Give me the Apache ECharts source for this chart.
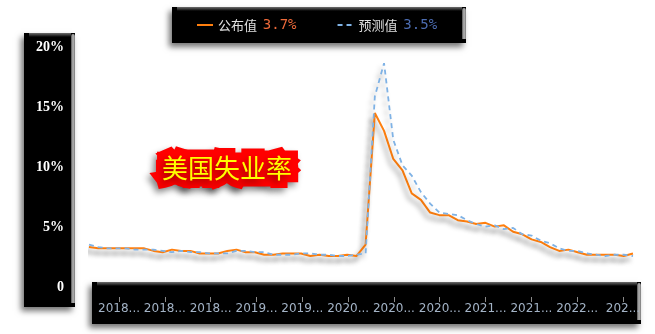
<!DOCTYPE html>
<html><head><meta charset="utf-8">
<script src="https://cdn.jsdelivr.net/npm/echarts@6/dist/echarts.min.js"></script>
<style>html,body{margin:0;padding:0;background:#fff}#c{width:655px;height:334px}</style>
</head><body><div id="c"></div>
<script>
const months = [
  '2017-09','2017-10','2017-11','2017-12',
  '2018-01','2018-02','2018-03','2018-04','2018-05','2018-06','2018-07','2018-08','2018-09','2018-10','2018-11','2018-12',
  '2019-01','2019-02','2019-03','2019-04','2019-05','2019-06','2019-07','2019-08','2019-09','2019-10','2019-11','2019-12',
  '2020-01','2020-02','2020-03','2020-04','2020-05','2020-06','2020-07','2020-08','2020-09','2020-10','2020-11','2020-12',
  '2021-01','2021-02','2021-03','2021-04','2021-05','2021-06','2021-07','2021-08','2021-09','2021-10','2021-11','2021-12',
  '2022-01','2022-02','2022-03','2022-04','2022-05','2022-06','2022-07','2022-08'
];
const actual = [
  4.2,4.1,4.1,4.1,
  4.1,4.1,4.1,3.9,3.8,4.0,3.9,3.9,3.7,3.7,3.7,3.9,
  4.0,3.8,3.8,3.6,3.6,3.7,3.7,3.7,3.5,3.6,3.5,3.5,
  3.6,3.5,4.4,14.7,13.3,11.1,10.2,8.4,7.9,6.9,6.7,6.7,
  6.3,6.2,6.0,6.1,5.8,5.9,5.4,5.2,4.8,4.6,4.2,3.9,
  4.0,3.8,3.6,3.6,3.6,3.6,3.5,3.7
];
const forecast = [
  4.4,4.2,4.1,4.1,
  4.1,4.0,4.0,4.0,3.9,3.8,3.9,3.8,3.8,3.7,3.7,3.7,
  3.9,3.9,3.8,3.8,3.6,3.6,3.6,3.7,3.7,3.6,3.6,3.5,
  3.5,3.6,3.7,16.0,18.6,12.6,10.6,9.8,8.5,7.6,6.9,6.8,
  6.7,6.3,6.0,5.8,5.9,5.6,5.7,5.2,5.1,4.7,4.5,4.1,
  3.9,3.9,3.7,3.6,3.5,3.6,3.6,3.5
];
const seriesNames = ['公布值','预测值'];
const yTicks = {min:0, max:20, step:5};

function box(x, y, w, h) {
  return [
    {type:'rect', z:-5, shape:{x:x, y:y, width:w, height:h},
      style:{fill:'#000', shadowBlur:6, shadowOffsetX:-3, shadowOffsetY:4, shadowColor:'rgba(0,0,0,0.55)'}},
    {type:'rect', z:-4, shape:{x:x+5, y:y, width:w-9, height:4},
      style:{fill:{type:'linear', x:0, y:0, x2:0, y2:1, colorStops:[{offset:0,color:'#6e6e6e'},{offset:1,color:'#000'}]}}},
    {type:'rect', z:-4, shape:{x:x+w-4, y:y+1, width:4, height:h-5, r:[2,2,0,0]},
      style:{fill:{type:'linear', x:0, y:0, x2:1, y2:0, colorStops:[{offset:0,color:'#555'},{offset:0.5,color:'#b8b8b8'},{offset:1,color:'#7a7a7a'}]}}}
  ];
}
const tickShown = (i) => i % 5 === 4;
const labelCats = months.map((m, i) => i === months.length - 1 ? {value: m, textStyle: {width: 39}} : m);

const chart = echarts.init(document.getElementById('c'));
chart.setOption({
  animation: false,
  backgroundColor: '#fff',
  graphic: {elements: [].concat(box(172, 7, 294, 36), box(24, 33, 51, 274), box(92, 282, 549, 42))},
  title: {
    text: '美国失业率', left: 157, top: 150,
    textStyle: {color:'#ffff00', fontSize:26, fontWeight:'normal', fontFamily:'Noto Sans CJK SC',
      textBorderColor:'#ff0000', textBorderWidth:15,
      textShadowColor:'rgba(0,0,0,0.45)', textShadowBlur:6, textShadowOffsetX:-3, textShadowOffsetY:4}
  },
  legend: {
    data: seriesNames, left: 196, top: 18, padding: 0, itemWidth: 16, itemHeight: 10, itemGap: 40, z: 10,
    itemStyle: {opacity: 0},
    formatter: (name) => name === seriesNames[0]
      ? '{n|' + name + '}  {a|' + actual[actual.length-1] + '%}'
      : '{n|' + name + '}  {f|' + forecast[forecast.length-1] + '%}',
    textStyle: {color:'#e0e0e0', fontSize:13, fontFamily:'Noto Sans CJK SC',
      rich: {
        n: {color:'#e0e0e0', fontSize:13, fontFamily:'Noto Sans CJK SC'},
        a: {color:'#ee6a3a', fontSize:14, fontFamily:'DejaVu Sans Mono'},
        f: {color:'#4c6cb0', fontSize:14, fontFamily:'DejaVu Sans Mono'}
      }}
  },
  grid: [
    {left: 89, right: 22, top: 45.3, bottom: 33.3},
    {left: 72, width: 1, top: 47, height: 240},
    {left: 82.4, right: 32, top: 250, bottom: 37}
  ],
  xAxis: [
    {gridIndex: 0, type: 'category', data: months, boundaryGap: false, show: false},
    {gridIndex: 1, type: 'category', data: [''], show: false},
    {gridIndex: 2, type: 'category', data: labelCats, boundaryGap: false, z: 10,
      axisLine: {show: false},
      axisTick: {show: true, interval: tickShown, length: 5, lineStyle: {color: '#8a8a8a'}},
      axisLabel: {interval: tickShown, color: '#a3b3c6', fontSize: 12, fontFamily: 'DejaVu Sans',
        width: 44, overflow: 'truncate', ellipsis: '...', margin: 6}}
  ],
  yAxis: [
    {gridIndex: 0, type: 'value', min: 0, max: 20, show: false},
    {gridIndex: 1, type: 'value', min: yTicks.min, max: yTicks.max, interval: yTicks.step, z: 10,
      axisLine: {show: false}, axisTick: {show: false}, splitLine: {show: false},
      axisLabel: {color: '#fff', fontSize: 14, fontWeight: 'bold', fontFamily: 'Liberation Serif', margin: 8,
        formatter: (v) => v === 0 ? '0' : v + '%'}},
    {gridIndex: 2, type: 'value', show: false, min: 0, max: 1}
  ],
  series: [
    {name: seriesNames[0], type: 'line', data: actual, symbol: 'none', xAxisIndex: 0, yAxisIndex: 0,
      itemStyle: {color: '#ff7f0e'},
      lineStyle: {color: '#ff7f0e', width: 2, shadowColor: 'rgba(0,0,0,0.4)', shadowBlur: 5, shadowOffsetX: -3, shadowOffsetY: 5}},
    {name: seriesNames[1], type: 'line', data: forecast, symbol: 'none', xAxisIndex: 0, yAxisIndex: 0,
      itemStyle: {color: '#7fb2e5'},
      lineStyle: {color: '#7fb2e5', width: 1.8, type: [5, 4], shadowColor: 'rgba(0,0,0,0.35)', shadowBlur: 5, shadowOffsetX: -3, shadowOffsetY: 5}}
  ]
});
</script>
</body></html>
